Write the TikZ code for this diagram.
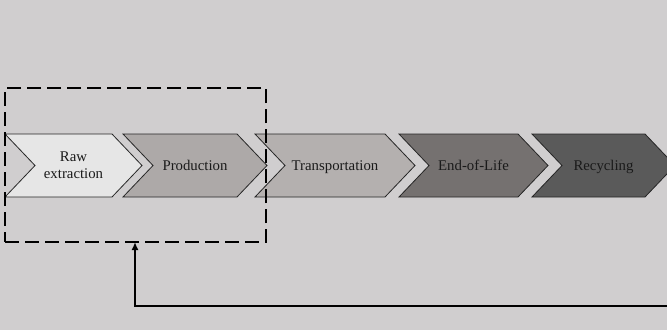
\documentclass[tikz,border=0pt]{standalone}
\usepackage{fontspec}
\setmainfont{Liberation Serif}
\usetikzlibrary{arrows.meta}
\definecolor{bg}{HTML}{D0CECF}
\definecolor{cA}{HTML}{E6E6E6}
\definecolor{cB}{HTML}{ADA9A8}
\definecolor{cC}{HTML}{B4B0AF}
\definecolor{cD}{HTML}{757170}
\definecolor{cE}{HTML}{5A5A5A}
\definecolor{txt}{HTML}{1A1A1A}
\tikzset{
  chev/.style={draw=black!85, line width=0.8pt, line join=miter},
  lbl/.style={text=txt, font=\fontsize{14.8}{17}\selectfont, align=center, inner sep=0pt},
  oneline/.style={text height=12pt, text depth=2pt},
  framebox/.style={draw=black, line width=1.6pt, dash pattern=on 14pt off 6pt},
  feedback/.style={draw=black, line width=1.8pt, -{Latex[length=8pt,width=7pt]}}
}
% #1 left x, #2 right (corner) x, #3 fill, #4 name, #5 text, #6 extra style
\newcommand{\chevshape}[6]{%
  \path[chev, fill=#3] (#1,134) -- (#2,134) -- (#2+30,165.5) -- (#2,197) -- (#1,197) -- (#1+30,165.5) -- cycle;
  \node[lbl, #6] (#4) at ({(#1+30+#2)/2},165.5) {#5};
}
\begin{document}
\begin{tikzpicture}[x=1pt,y=-1pt]
\useasboundingbox (0,0) rectangle (667,330);
\fill[bg] (0,0) rectangle (667,330);
\chevshape{5}{112}{cA}{raw}{Raw\\extraction}{}
\chevshape{123}{237}{cB}{prod}{Production}{oneline}
\chevshape{255}{385}{cC}{trans}{Transportation}{oneline}
\chevshape{399}{518}{cD}{eol}{End-of-Life}{oneline}
\chevshape{532}{645}{cE}{rec}{Recycling}{oneline}
\node[framebox, minimum width=261pt, minimum height=154pt, inner sep=0pt] (box) at (135.5,165) {};
\coordinate (fbstart) at (668,306);
\coordinate (fbcorner) at (135,306);
\coordinate (fbend) at (135,242);
\draw[feedback] (fbstart) -- (fbcorner) -- (fbend);
\end{tikzpicture}
\end{document}
